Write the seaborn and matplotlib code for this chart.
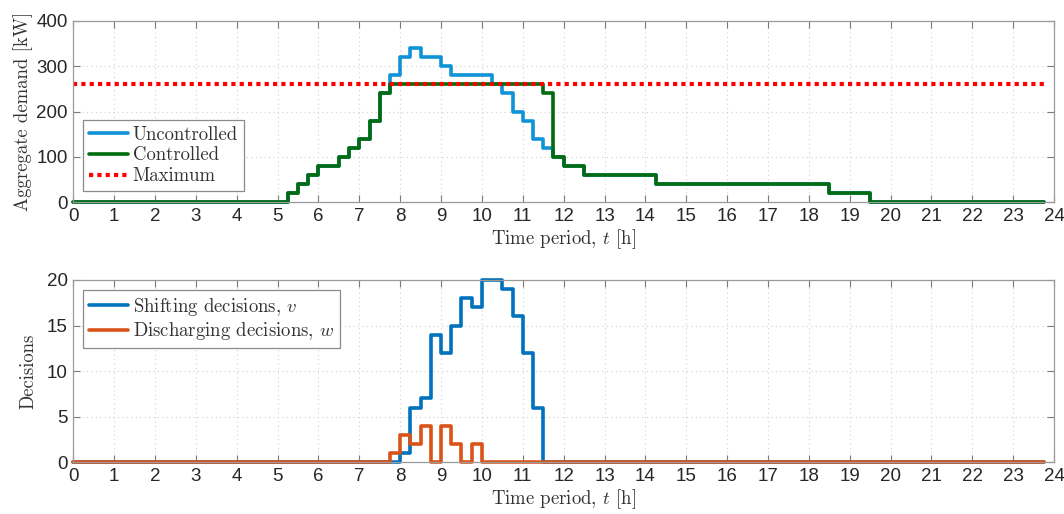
import numpy as np
import pandas as pd
import matplotlib
matplotlib.use("Agg")
import matplotlib.pyplot as plt
import seaborn as sns

# Step-change times [h] and the level held from each time onwards
uncontrolled_t = [0, 5.25, 5.5, 5.75, 6.0, 6.5, 6.75, 7.0, 7.25, 7.5, 7.75, 8.0, 8.25, 8.5,
                  9.0, 9.25, 10.25, 10.5, 10.75, 11.0, 11.25, 11.5, 11.75, 12.0, 12.5,
                  14.25, 18.5, 19.5, 23.75]
uncontrolled_kw = [0, 20, 40, 60, 80, 100, 120, 140, 180, 240, 280, 320, 340, 320,
                   300, 280, 260, 240, 200, 180, 140, 120, 100, 80, 60,
                   40, 20, 0, 0]

controlled_t = [0, 5.25, 5.5, 5.75, 6.0, 6.5, 6.75, 7.0, 7.25, 7.5, 7.75, 11.5, 11.75,
                12.0, 12.5, 14.25, 18.5, 19.5, 23.75]
controlled_kw = [0, 20, 40, 60, 80, 100, 120, 140, 180, 240, 260, 240, 100,
                 80, 60, 40, 20, 0, 0]

max_kw = 260
day_span = [0, 23.75]

shifting_t = [0, 8.0, 8.25, 8.5, 8.75, 9.0, 9.25, 9.5, 9.75, 10.0, 10.5, 10.75, 11.0,
              11.25, 11.5, 23.75]
shifting_v = [0, 1, 6, 7, 14, 12, 15, 18, 17, 20, 19, 16, 12, 6, 0, 0]

discharging_t = [0, 7.75, 8.0, 8.25, 8.5, 8.75, 9.0, 9.25, 9.5, 9.75, 10.0, 23.75]
discharging_w = [0, 1, 3, 2, 4, 0, 4, 2, 0, 2, 0, 0]

hour_ticks = list(range(0, 25))

sns.set_theme(style="white")
plt.rcParams["mathtext.fontset"] = "cm"
plt.rcParams["font.family"] = ["Liberation Sans", "DejaVu Sans"]

SERIF = "cmr10"
TICK_FS = 13.5
LABEL_FS = 13.5

fig = plt.figure(figsize=(10.64, 5.14), dpi=100)
ax1 = fig.add_axes([0.0689, 0.6064, 0.9217, 0.3533])
ax2 = fig.add_axes([0.0689, 0.1006, 0.9217, 0.3547])


def steps(ax, t, y, color, label, lw=2.6, ls="-"):
    df = pd.DataFrame({"t": t, "y": y})
    sns.lineplot(data=df, x="t", y="y", ax=ax, color=color, lw=lw, ls=ls,
                 drawstyle="steps-post", estimator=None, sort=False, label=label,
                 clip_on=False)


steps(ax1, uncontrolled_t, uncontrolled_kw, "#0E94D6", "Uncontrolled")
steps(ax1, controlled_t, controlled_kw, "#006B0F", "Controlled")
sns.lineplot(x=day_span, y=[max_kw, max_kw], ax=ax1, color="#FF0000", lw=3.0,
             ls=(0, (1, 1)), label="Maximum")

steps(ax2, shifting_t, shifting_v, "#0072BD", "Shifting decisions, $v$")
steps(ax2, discharging_t, discharging_w, "#D95319", "Discharging decisions, $w$")

for ax in (ax1, ax2):
    ax.set_xlim(0, 24)
    ax.set_xticks(hour_ticks)
    ax.grid(True, color="#d0d0d0", ls=(0, (1, 3)), lw=0.8)
    ax.tick_params(direction="in", length=5, width=0.8, color="#7a7a7a",
                   top=True, right=True, labelsize=TICK_FS, labelcolor="#262626",
                   pad=4, left=True, bottom=True)
    for sp in ax.spines.values():
        sp.set_color("#9a9a9a")
        sp.set_linewidth(0.9)
    ax.set_xlabel("Time period, $t$ [h]", family=SERIF, fontsize=LABEL_FS,
                  color="#333333", labelpad=2)

ax1.set_ylim(0, 400)
ax1.set_yticks([0, 100, 200, 300, 400])
ax1.set_ylabel("Aggregate demand [kW]", family=SERIF, fontsize=LABEL_FS,
               color="#333333", labelpad=2.5)

ax2.set_ylim(0, 20)
ax2.set_yticks([0, 5, 10, 15, 20])
ax2.set_ylabel("Decisions", family=SERIF, fontsize=LABEL_FS, color="#333333",
               labelpad=7)

leg_kw = dict(loc="upper left", frameon=True, fancybox=False, framealpha=1,
              edgecolor="#8a8a8a", handlelength=2.1, handletextpad=0.25,
              borderpad=0.3, labelspacing=0.15, borderaxespad=0,
              prop={"family": SERIF, "size": LABEL_FS})
l1 = ax1.legend(bbox_to_anchor=(0.0099, 0.453), **leg_kw)
l2 = ax2.legend(bbox_to_anchor=(0.0099, 0.945), **leg_kw)
for leg in (l1, l2):
    leg.get_frame().set_linewidth(0.9)
    for t in leg.get_texts():
        t.set_color("#333333")

fig.savefig("out.png", dpi=100)
